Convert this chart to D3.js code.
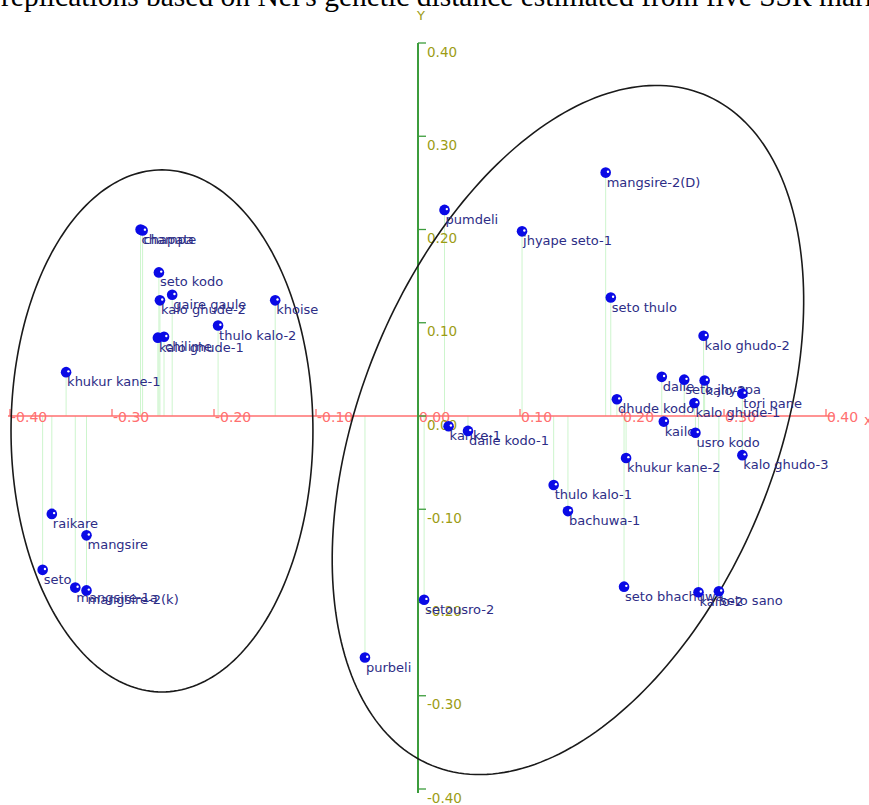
<!DOCTYPE html>
<html>
<head>
<meta charset="utf-8">
<script src="https://cdn.jsdelivr.net/npm/d3@7"></script>
<style>
  body { margin: 0; background: #fff; }
  svg { display: block; }
</style>
</head>
<body>
<svg id="chart"></svg>
<script>
const width = 869;
const height = 805;

// landrace names and their PCoA coordinates
const names = [
    "champa", "chapate", "seto kodo", "gaire gaule", "kalo ghude-2", "khoise",
    "thulo kalo-2", "kalo ghude-1", "chilime", "khukur kane-1",
    "raikare", "mangsire", "seto", "mangsire-1a", "mangsire-2(k)", "purbeli",
    "pumdeli", "jhyape seto-1", "mangsire-2(D)", "seto thulo", "kalo ghudo-2",
    "daile", "seto jhyapa", "kalo-2", "tori pane", "dhude kodo", "kalo ghude-1",
    "kailo", "usro kodo", "kalo ghudo-3", "khukur kane-2",
    "kanke-1", "daile kodo-1", "thulo kalo-1", "bachuwa-1", "setousro-2",
    "seto bhachuwa", "kailo-2", "seto sano"
];
const xValues = [
    -0.272, -0.270, -0.254, -0.241, -0.253, -0.140,
    -0.196, -0.255, -0.249, -0.345,
    -0.359, -0.325, -0.368, -0.336, -0.325, -0.052,
    0.026, 0.102, 0.184, 0.189, 0.280,
    0.239, 0.261, 0.281, 0.318, 0.195, 0.271,
    0.241, 0.272, 0.318, 0.204,
    0.030, 0.049, 0.133, 0.147, 0.006,
    0.202, 0.275, 0.295
];
const yValues = [
    0.200, 0.199, 0.154, 0.130, 0.124, 0.124,
    0.097, 0.084, 0.085, 0.047,
    -0.105, -0.128, -0.165, -0.184, -0.187, -0.259,
    0.221, 0.198, 0.261, 0.127, 0.086,
    0.042, 0.039, 0.038, 0.024, 0.018, 0.014,
    -0.006, -0.018, -0.042, -0.045,
    -0.011, -0.016, -0.074, -0.102, -0.197,
    -0.183, -0.189, -0.188
];

const tickValues = [-0.40, -0.30, -0.20, -0.10, 0.00, 0.10, 0.20, 0.30, 0.40];

// cluster ellipses: centre and semi-axes in data units, tilt in degrees
const ellipseCx = [-0.251, 0.147];
const ellipseCy = [-0.016, -0.015];
const ellipseA = [0.148, 0.3549];
const ellipseB = [0.2559, 0.2039];
const ellipseTilt = [0, 68];

const titleText = "replications based on Nei's genetic distance estimated from five SSR markers";

const points = names.map((n, i) => ({ name: n, x: xValues[i], y: yValues[i] }));

const svg = d3.select("#chart")
    .attr("width", width)
    .attr("height", height)
    .style("font-family", "'DejaVu Sans', sans-serif");

const x = d3.scaleLinear().domain([-0.4, 0.4]).range([10, 826]);
const y = d3.scaleLinear().domain([-0.4, 0.4]).range([789, 43]);

const axisRed = "#ff6f6f";
const axisGreen = "#3c9c3c";
const yLabelColor = "#9c9c14";
const fmt = v => v.toFixed(2);

// title, cut off at the top like the source figure
svg.append("text")
    .attr("x", 1)
    .attr("y", 6)
    .style("font-family", "'Liberation Serif', 'Times New Roman', serif")
    .style("font-size", "29.5px")
    .attr("fill", "#000")
    .text(titleText);

// drop lines from each point to the x axis
svg.append("g")
    .selectAll("line")
    .data(points)
    .enter()
    .append("line")
    .attr("x1", d => x(d.x))
    .attr("x2", d => x(d.x))
    .attr("y1", d => y(d.y))
    .attr("y2", y(0))
    .attr("stroke", "#cdf5cd")
    .attr("stroke-width", 1);

// x axis
const xAxisG = svg.append("g");
xAxisG.append("line")
    .attr("x1", x(-0.4) - 2)
    .attr("x2", x(0.4) + 8)
    .attr("y1", y(0))
    .attr("y2", y(0))
    .attr("stroke", axisRed)
    .attr("stroke-width", 1.6);

const xTicks = xAxisG.selectAll("g.xtick")
    .data(tickValues)
    .enter()
    .append("g")
    .attr("class", "xtick")
    .attr("transform", d => `translate(${x(d)},${y(0)})`);

xTicks.append("line")
    .attr("y1", 0)
    .attr("y2", -7)
    .attr("stroke", axisRed)
    .attr("stroke-width", 1.3);

xTicks.append("text")
    .attr("x", 1)
    .attr("y", 1)
    .attr("dy", "0.35em")
    .style("font-size", "14px")
    .attr("fill", axisRed)
    .text(d => fmt(d));

svg.append("text")
    .attr("x", 864)
    .attr("y", y(0) + 4)
    .attr("dy", "0.35em")
    .style("font-size", "14px")
    .attr("fill", axisRed)
    .text("x");

// y axis
const yAxisG = svg.append("g");
yAxisG.append("line")
    .attr("x1", x(0))
    .attr("x2", x(0))
    .attr("y1", y(0.4))
    .attr("y2", y(-0.4) + 4)
    .attr("stroke", axisGreen)
    .attr("stroke-width", 2);

const yTicks = yAxisG.selectAll("g.ytick")
    .data(tickValues)
    .enter()
    .append("g")
    .attr("class", "ytick")
    .attr("transform", d => `translate(${x(0)},${y(d)})`);

yTicks.append("line")
    .attr("x1", 0)
    .attr("x2", 8)
    .attr("stroke", axisGreen)
    .attr("stroke-width", 1.3);

yTicks.append("text")
    .attr("x", 9)
    .attr("y", 9)
    .attr("dy", "0.35em")
    .style("font-size", "13.5px")
    .attr("fill", yLabelColor)
    .text(d => fmt(d));

svg.append("text")
    .attr("x", x(0) + 3)
    .attr("y", 15)
    .attr("text-anchor", "middle")
    .attr("dy", "0.35em")
    .style("font-size", "13px")
    .attr("fill", yLabelColor)
    .text("Y");

// cluster ellipses
const ellipseLine = d3.line().curve(d3.curveLinearClosed);

ellipseCx.forEach((cx, i) => {
    const c = [x(cx), y(ellipseCy[i])];
    const a = x(ellipseA[i]) - x(0);
    const b = x(ellipseB[i]) - x(0);
    const phi = ellipseTilt[i] * Math.PI / 180;
    const pts = d3.range(0, 2 * Math.PI, Math.PI / 120).map(t => [
        c[0] + a * Math.cos(t) * Math.cos(phi) - b * Math.sin(t) * Math.sin(phi),
        c[1] - a * Math.cos(t) * Math.sin(phi) - b * Math.sin(t) * Math.cos(phi)
    ]);
    svg.append("path")
        .attr("d", ellipseLine(pts))
        .attr("fill", "none")
        .attr("stroke", "#1a1a1a")
        .attr("stroke-width", 1.6);
});

// points
const pointG = svg.append("g")
    .selectAll("g")
    .data(points)
    .enter()
    .append("g")
    .attr("transform", d => `translate(${x(d.x)},${y(d.y)})`);

pointG.append("circle")
    .attr("r", 5.3)
    .attr("fill", "#0a0ae6");

pointG.append("circle")
    .attr("cx", 2.3)
    .attr("cy", -0.8)
    .attr("r", 1.2)
    .attr("fill", "#ffffff");

pointG.append("text")
    .attr("x", 1)
    .attr("y", 14)
    .style("font-size", "13px")
    .attr("fill", "#2d2d86")
    .text(d => d.name);
</script>
</body>
</html>
